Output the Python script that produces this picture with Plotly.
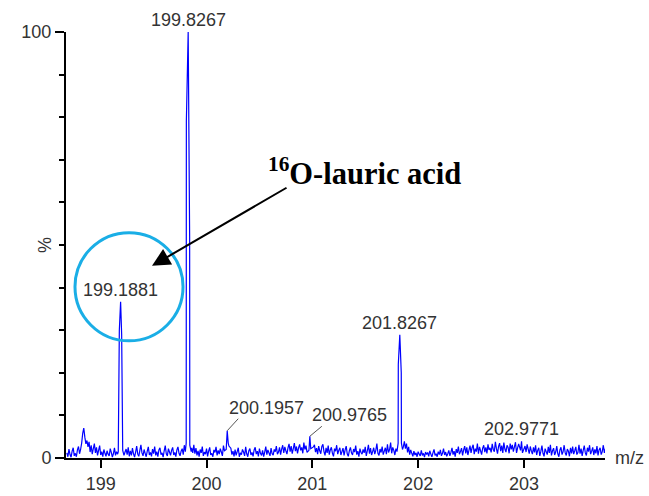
import numpy as np
import plotly.graph_objects as go

# Labelled peak apexes: m/z and relative intensity (%)
peak_mz = [199.1881, 199.8267, 200.1957, 200.9765, 201.8267, 202.9771]
peak_int = [36.7, 100.0, 6.4, 5.1, 28.9, 3.9]

# Profile samples on the flanks of the peaks
flank_mz = [199.166, 199.176, 199.198, 199.208,
            199.808, 199.8095, 199.8405, 199.842, 199.855,
            200.186, 200.205, 200.212,
            200.968, 200.985,
            201.811, 201.8125, 201.8405, 201.842, 201.852,
            202.968, 202.986]
flank_int = [1.5, 30.0, 29.0, 1.8,
             3.5, 79.0, 52.0, 3.0, 1.5,
             2.0, 3.5, 2.8,
             1.8, 2.2,
             3.5, 22.0, 20.0, 3.5, 2.0,
             1.8, 1.2]

# Baseline noise, sampled every 0.01 m/z from 198.68 (one row per 0.2 m/z)
noise_start = 198.68
noise_step = 0.01
noise_int = [
    1.2, 0.3, 2.1, 0.8, 0.2, 1.6, 2.4, 0.5, 1.1, 0.3, 1.9, 2.7, 1.0, 2.0, 3.5, 5.8, 7.0, 4.9, 3.3, 4.1,
    2.6, 3.8, 1.4, 3.0, 0.9, 2.2, 3.4, 1.2, 2.5, 0.6, 1.8, 2.9, 0.7, 1.5, 0.3, 2.0, 1.1, 0.4, 1.7, 0.9,
    0.5, 2.2, 1.3, 0.2, 1.0, 2.4, 0.6, 1.5, 0.9, 0.4, 1.1, 0.3, 1.3, 1.0, 0.6, 1.4, 2.1, 0.8, 2.5, 0.4,
    1.7, 0.6, 2.3, 1.0, 0.2, 1.4, 2.8, 0.9, 0.4, 1.8, 3.1, 1.2, 0.5, 2.0, 1.1, 0.3, 1.6, 2.6, 0.7, 1.3,
    0.4, 2.1, 1.0, 2.7, 0.6, 1.5, 0.3, 1.9, 2.4, 0.8, 1.2, 0.2, 1.7, 2.9, 1.0, 0.5, 2.2, 1.4, 0.6, 1.8,
    2.5, 0.7, 1.3, 0.3, 1.9, 2.6, 1.1, 0.5, 1.6, 2.2, 0.8, 3.0, 1.5, 1.0, 1.0, 1.0, 1.0, 1.0, 2.4, 1.2,
    3.1, 1.0, 2.3, 0.6, 1.7, 0.3, 2.0, 1.2, 2.7, 0.5, 1.4, 0.9, 2.2, 0.4, 1.6, 2.5, 0.7, 1.1, 0.3, 1.9,
    1.3, 2.6, 0.6, 1.8, 0.9, 2.2, 1.4, 0.5, 2.9, 1.7, 1.0, 1.0, 1.0, 1.0, 1.0, 2.3, 0.8, 1.6, 0.4, 2.0,
    0.6, 1.5, 2.4, 0.3, 1.2, 0.8, 2.0, 1.4, 0.5, 2.6, 1.0, 0.3, 1.7, 2.2, 0.7, 1.3, 0.4, 1.9, 2.5, 0.9,
    1.6, 0.4, 2.2, 1.1, 0.6, 1.8, 0.3, 1.4, 2.7, 0.8, 1.9, 1.2, 0.5, 2.3, 1.0, 0.7, 2.0, 1.5, 2.8, 0.9,
    1.4, 2.5, 0.8, 2.1, 3.0, 1.2, 2.6, 1.7, 0.9, 2.4, 3.3, 1.5, 2.8, 1.0, 2.2, 3.5, 1.6, 2.7, 1.1, 2.4,
    3.2, 1.8, 2.5, 1.1, 3.6, 2.0, 2.9, 1.3, 1.0, 1.0, 1.0, 1.0, 1.0, 2.6, 3.1, 1.4, 2.3, 0.9, 2.8, 1.7,
    1.0, 2.7, 3.2, 1.5, 0.6, 2.4, 1.2, 2.9, 0.8, 1.9, 2.5, 1.1, 0.4, 2.2, 1.6, 3.0, 0.9, 1.8, 2.4, 0.7,
    1.5, 2.3, 0.6, 1.9, 2.8, 1.0, 0.4, 1.7, 2.5, 1.2, 0.7, 2.1, 1.4, 2.9, 0.8, 1.6, 0.3, 2.2, 1.3, 0.9,
    2.0, 1.2, 2.6, 0.5, 1.7, 3.1, 1.0, 2.3, 0.7, 1.5, 2.4, 0.9, 1.8, 3.4, 1.1, 0.6, 2.1, 1.3, 2.7, 0.8,
    1.6, 2.4, 0.9, 3.2, 1.3, 2.0, 3.6, 1.1, 2.5, 1.8, 0.7, 2.2, 1.5, 1.0, 1.0, 1.0, 1.0, 1.0, 2.6, 3.9,
    2.2, 3.4, 1.3, 2.6, 0.8, 1.9, 1.1, 0.4, 1.6, 0.7, 1.2, 0.3, 1.5, 0.9, 0.5, 1.8, 0.6, 1.1, 0.2, 1.4,
    0.8, 1.3, 0.4, 1.7, 0.9, 0.3, 1.2, 2.0, 0.6, 1.0, 0.3, 1.5, 0.8, 1.9, 0.5, 1.1, 2.2, 0.7, 1.4, 0.4,
    1.0, 1.8, 0.5, 1.3, 2.4, 0.8, 1.6, 0.3, 2.1, 1.2, 2.7, 0.9, 1.5, 2.3, 0.6, 1.9, 2.8, 1.1, 2.5, 0.7,
    1.8, 2.9, 1.2, 2.4, 3.1, 0.9, 2.2, 1.5, 3.4, 1.0, 2.6, 1.7, 0.8, 2.3, 3.0, 1.4, 2.5, 1.1, 3.2, 1.9,
    2.4, 1.3, 3.3, 2.0, 1.5, 3.8, 2.2, 1.0, 2.7, 3.5, 1.6, 2.9, 1.2, 3.6, 2.1, 1.4, 3.0, 2.5, 1.1, 3.4,
    2.0, 3.1, 1.5, 2.6, 3.7, 1.2, 2.4, 3.3, 1.0, 1.0, 1.0, 1.0, 1.0, 2.8, 1.4, 3.2, 2.1, 1.0, 2.7, 1.6,
    0.9, 2.5, 1.3, 3.0, 0.7, 1.8, 2.4, 0.5, 1.6, 2.9, 1.1, 0.4, 2.2, 1.5, 0.8, 2.6, 1.2, 3.1, 0.6, 1.7,
    2.3, 0.7, 1.4, 2.8, 1.0, 0.3, 1.9, 2.5, 0.8, 1.5, 3.0, 1.2, 0.6, 2.1, 1.6, 0.4, 2.4, 1.1, 2.7, 0.9,
    1.7, 2.6, 0.8, 1.3, 3.1, 1.0, 2.2, 0.5, 1.8, 2.9, 1.2, 0.6, 2.4, 1.5, 3.0, 0.9, 1.6, 2.5, 0.7, 2.0,
    1.1, 2.8, 0.6, 1.9, 2.4, 0.8, 1.5, 3.0, 1.2, 2.2,
]

x_ticks = [199, 200, 201, 202, 203]
y_ticks = [0, 100]
y_tick_text = ["0", "100"]
x_title = "m/z"
y_title = "%"
compound = "<b><sup>16</sup>O-lauric acid</b>"

# ---- assemble the profile trace ----
noise_mz = noise_start + noise_step * np.arange(len(noise_int))
apex = np.array(peak_mz)
keep = np.array([np.min(np.abs(apex - m)) >= 0.025 for m in noise_mz])
mz = np.concatenate([noise_mz[keep], flank_mz, peak_mz])
inten = np.concatenate([np.array(noise_int)[keep], flank_int, peak_int])
order = np.argsort(mz)
mz, inten = mz[order], inten[order]

W, H = 649, 496
ML, MR, MT, MB = 66, 44, 32, 38
X0, X1 = 198.672, 203.766


def px_x(p):
    return (p - ML) / (W - ML - MR)


def px_y(p):
    return (H - MB - p) / (H - MT - MB)


label_font = dict(family="Liberation Sans, Arial, sans-serif", size=18, color="#333333")

fig = go.Figure()
fig.add_trace(go.Scatter(
    x=mz, y=inten, mode="lines",
    line=dict(color="#0000ff", width=1.2, simplify=False),
    hoverinfo="skip", showlegend=False,
))

# peak labels: (xanchor, yshift, leader dx, leader dy) -- leader offsets in pixels
label_style = [
    ("center", 0, None, None),
    ("center", 0, None, None),
    ("left", 11, 11, 12),
    ("left", 9, 12, 10),
    ("center", 0, None, None),
    ("center", 0, None, None),
]
annotations = []
shapes = [dict(
    type="circle", xref="x", yref="y",
    x0=198.757, x1=199.778, y0=27.5, y1=52.9,
    line=dict(color="#1aaee6", width=3),
)]
for m, v, (xa, ys, ldx, ldy) in zip(peak_mz, peak_int, label_style):
    annotations.append(dict(
        x=m, y=v, xref="x", yref="y", text=f"{m:.4f}", showarrow=False,
        xanchor=xa, yanchor="bottom", yshift=ys, font=label_font,
    ))
    if ldx is not None:
        # short leader line from the apex up to the label
        shapes.append(dict(
            type="line", xref="x", yref="y",
            xsizemode="pixel", ysizemode="pixel", xanchor=m, yanchor=v,
            x0=0, y0=0, x1=ldx, y1=ldy,
            line=dict(color="#555555", width=1),
        ))

# compound callout
annotations.append(dict(
    x=px_x(266), y=px_y(171), xref="paper", yref="paper", text=compound,
    showarrow=False, xanchor="left", yanchor="middle",
    font=dict(family="Liberation Serif, Times New Roman, serif", size=30.5, color="black"),
))
annotations.append(dict(
    x=199.485, y=45.1, xref="x", yref="y", text="", showarrow=True,
    arrowhead=2, arrowsize=1.8, arrowwidth=2, arrowcolor="black",
    ax=136, ay=-79, standoff=0,
))

# axis titles
annotations.append(dict(
    x=px_x(613), y=0, xref="paper", yref="y", text=x_title, showarrow=False,
    xanchor="left", yanchor="middle", font=label_font,
))
annotations.append(dict(
    x=px_x(45), y=50, xref="paper", yref="y", text=y_title, showarrow=False,
    xanchor="center", yanchor="middle", textangle=-90, font=label_font,
))

fig.update_layout(
    width=W, height=H,
    margin=dict(l=ML, r=MR, t=MT, b=MB, autoexpand=False),
    paper_bgcolor="white", plot_bgcolor="white",
    annotations=annotations,
    shapes=shapes,
    xaxis=dict(
        range=[X0, X1], showgrid=False, zeroline=False, automargin=False,
        showline=True, linecolor="black", linewidth=2,
        tickvals=x_ticks, ticks="outside", ticklen=8, tickwidth=1.5, tickcolor="black",
        tickfont=label_font,
    ),
    yaxis=dict(
        range=[0, 100], showgrid=False, zeroline=False, automargin=False,
        showline=True, linecolor="black", linewidth=2,
        tickvals=y_ticks, ticktext=y_tick_text,
        ticks="outside", ticklen=9, tickwidth=1.5, tickcolor="black",
        tickfont=label_font,
        minor=dict(dtick=10, tick0=0, ticks="outside", ticklen=5, tickwidth=1.5, tickcolor="black"),
    ),
)

fig.write_html("out.html")
